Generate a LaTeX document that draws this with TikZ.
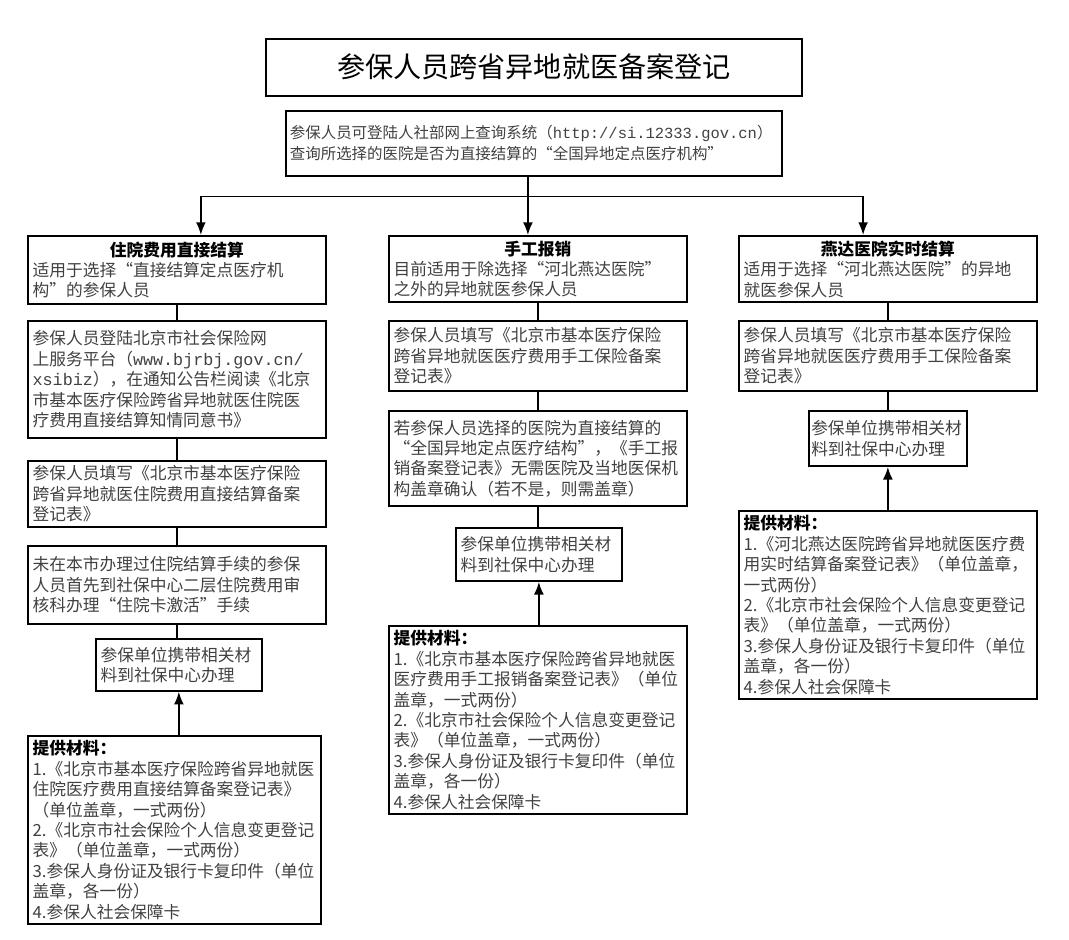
\documentclass[tikz,border=0pt]{standalone}
\usepackage{fontspec}
\setmainfont{Noto Sans CJK SC}
\newfontfamily\urlfont{Liberation Mono}
\XeTeXlinebreaklocale "zh"
\usetikzlibrary{arrows.meta}

\tikzset{
	stepbox/.style = {draw, line width=1.2pt, anchor=north west, align=left,
		inner sep=0.12cm, minimum width=7.45cm, text width=7.21cm,
		text=black!75, font=\fontsize{11.9}{14.5}\selectfont},
	smallbox/.style = {stepbox, minimum width=4.15cm, text width=3.91cm},
	line/.style = {line width=1.2pt},
	arrow/.style = {line width=1.2pt, -{Latex[length=9pt,width=7pt]}}
}
\newcommand{\head}[1]{\makebox[\linewidth]{\color{black}\bfseries #1}\\}

\begin{document}
\begin{tikzpicture}[x=0.025cm, y=-0.025cm]
	\useasboundingbox (0,0) rectangle (1069,939);
	% title and query
	\node[stepbox, minimum width=13.4cm, text width=13.1cm, minimum height=1.42cm, align=center, text=black,
		font=\fontsize{20}{24}\selectfont] (T) at (265,38) {参保人员跨省异地就医备案登记};
	\node[stepbox, minimum width=12.4cm, text width=12.2cm, inner sep=0.1cm, minimum height=1.62cm,
		font=\fontsize{11}{15}\selectfont] (I) at (285,110)
		{\mbox{参保人员可登陆人社部网上查询系统（{\urlfont http://si.12333.gov.cn}）}\\查询所选择的医院是否为直接结算的“全国异地定点医疗机构”};
	% left column
	\node[stepbox, minimum height=1.7cm] (L1) at (27,235)
		{\head{住院费用直接结算}适用于选择“直接结算定点医疗机\\构”的参保人员};
	\node[stepbox, minimum height=2.92cm] (L2) at (27,320)
		{参保人员登陆北京市社会保险网\\上服务平台（{\urlfont www.bjrbj.gov.cn/}\\{\urlfont xsibiz}），在通知公告栏阅读《北京\\市基本医疗保险跨省异地就医住院医\\疗费用直接结算知情同意书》};
	\node[stepbox, minimum height=1.65cm] (L3) at (27,460)
		{参保人员填写《北京市基本医疗保险\\跨省异地就医住院费用直接结算备案\\登记表》};
	\node[stepbox, minimum height=1.95cm] (L4) at (27,545)
		{未在本市办理过住院结算手续的参保\\人员首先到社保中心二层住院费用审\\核科办理“住院卡激活”手续};
	\node[smallbox, minimum height=1.3cm] (L5) at (95,638)
		{参保单位携带相关材\\料到社保中心办理};
	\node[stepbox, minimum width=7.33cm, text width=7.09cm, minimum height=4.58cm] (L6) at (27,735)
		{{\color{black}\bfseries 提供材料：}\\1.《北京市基本医疗保险跨省异地就医\\住院医疗费用直接结算备案登记表》\\（单位盖章，一式两份）\\2.《北京市社会保险个人信息变更登记\\表》（单位盖章，一式两份）\\3.参保人身份证及银行卡复印件（单位\\盖章，各一份）\\4.参保人社会保障卡};
	% middle column
	\node[stepbox, minimum height=1.62cm] (M1) at (388,235)
		{\head{手工报销}目前适用于除选择“河北燕达医院”\\之外的异地就医参保人员};
	\node[stepbox, minimum height=1.75cm] (M2) at (388,320)
		{参保人员填写《北京市基本医疗保险\\跨省异地就医医疗费用手工保险备案\\登记表》};
	\node[stepbox, minimum height=2.38cm] (M3) at (388,410)
		{若参保人员选择的医院为直接结算的\\“全国异地定点医疗结构”，《手工报\\销备案登记表》无需医院及当地医保机\\构盖章确认（若不是，则需盖章）};
	\node[smallbox, minimum height=1.33cm] (M4) at (455,527)
		{参保单位携带相关材\\料到社保中心办理};
	\node[stepbox, minimum height=4.62cm] (M6) at (388,625)
		{{\color{black}\bfseries 提供材料：}\\1.《北京市基本医疗保险跨省异地就医\\医疗费用手工报销备案登记表》（单位\\盖章，一式两份）\\2.《北京市社会保险个人信息变更登记\\表》（单位盖章，一式两份）\\3.参保人身份证及银行卡复印件（单位\\盖章，各一份）\\4.参保人社会保障卡};
	% right column
	\node[stepbox, minimum height=1.62cm] (R1) at (738,235)
		{\head{燕达医院实时结算}适用于选择“河北燕达医院”的异地\\就医参保人员};
	\node[stepbox, minimum height=1.75cm] (R2) at (738,320)
		{参保人员填写《北京市基本医疗保险\\跨省异地就医医疗费用手工保险备案\\登记表》};
	\node[smallbox, minimum width=3.95cm, text width=3.83cm, inner sep=0.06cm, minimum height=1.38cm] (R3) at (808,410)
		{参保单位携带相关材\\料到社保中心办理};
	\node[stepbox, minimum height=4.62cm] (R6) at (738,510)
		{{\color{black}\bfseries 提供材料：}\\1.《河北燕达医院跨省异地就医医疗费\\用实时结算备案登记表》（单位盖章，\\一式两份）\\2.《北京市社会保险个人信息变更登记\\表》（单位盖章，一式两份）\\3.参保人身份证及银行卡复印件（单位\\盖章，各一份）\\4.参保人社会保障卡};
	% connectors
	\draw[line] ([xshift=-0.15cm]I.south) -- ++(0,20) coordinate (J);
	\draw[arrow] (J) -| ([xshift=0.6cm]L1.north);
	\draw[arrow] (J) -| ([xshift=-0.62cm]R1.north);
	\draw[arrow] (J) -- (J |- M1.north);
	\draw[line] (L1) -- (L2);
	\draw[line] (L2) -- (L3);
	\draw[line] (L3) -- (L4);
	\draw[line] (L4.south) -- (L4.south |- L5.north);
	\draw[arrow] (L6.north -| L5.south) -- (L5.south);
	\draw[line] (M1) -- (M2);
	\draw[line] (M2) -- (M3);
	\draw[line] (M3.south) -- (M3.south |- M4.north);
	\draw[arrow] (M6.north -| M4.south) -- (M4.south);
	\draw[line] (R1) -- (R2);
	\draw[line] (R2.south) -- (R2.south |- R3.north);
	\draw[arrow] (R6.north -| R3.south) -- (R3.south);
\end{tikzpicture}
\end{document}
